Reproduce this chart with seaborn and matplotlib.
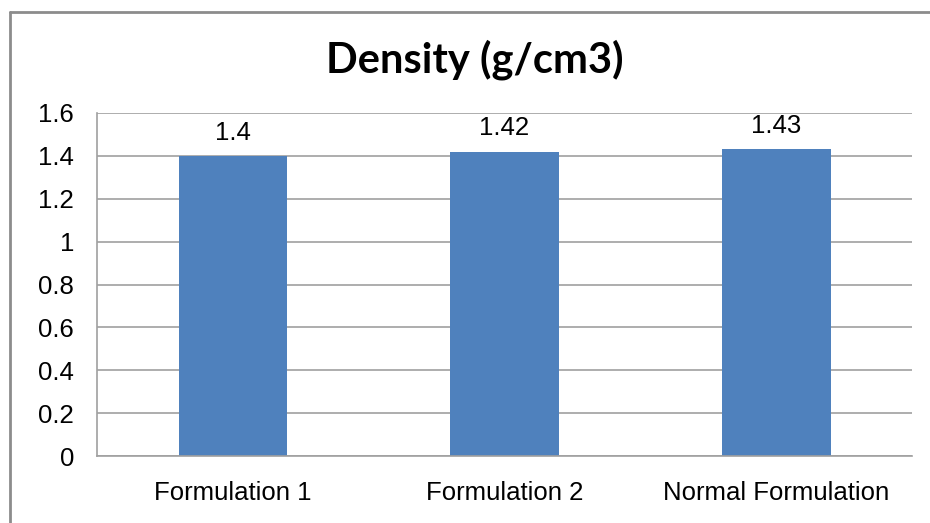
import matplotlib
matplotlib.use("Agg")
import matplotlib.pyplot as plt
import seaborn as sns
import pandas as pd
from matplotlib.lines import Line2D

categories = ["Formulation 1", "Formulation 2", "Normal Formulation"]
values = [1.40, 1.42, 1.43]
value_labels = ["1.4", "1.42", "1.43"]
y_ticks = [0, 0.2, 0.4, 0.6, 0.8, 1.0, 1.2, 1.4, 1.6]
y_tick_labels = ["0", "0.2", "0.4", "0.6", "0.8", "1", "1.2", "1.4", "1.6"]
title = "Density (g/cm3)"

sns.set_style("white")
plt.rcParams["font.family"] = ["Liberation Sans", "DejaVu Sans"]
plt.rcParams["text.color"] = "black"

df = pd.DataFrame({"cat": categories, "val": values})

fig = plt.figure(figsize=(9.3, 5.23), dpi=100)
ax = fig.add_axes([97/930, 1-456/523, (912-97)/930, (456-113)/523])

sns.barplot(data=df, x="cat", y="val", color="#4F81BD", saturation=1,
            width=0.4, ax=ax, edgecolor="none")

ax.set_ylim(0, 1.6)
ax.set_yticks(y_ticks)
ax.set_yticklabels(y_tick_labels)
ax.set_xlim(-0.5, 2.5)
ax.set_xlabel("")
ax.set_ylabel("")
ax.grid(axis="y", color="#A0A0A0", linewidth=1.2)
ax.set_axisbelow(True)
for s in ["top", "right"]:
    ax.spines[s].set_visible(False)
for s in ["left", "bottom"]:
    ax.spines[s].set_color("#A0A0A0")
    ax.spines[s].set_linewidth(1.2)
ax.tick_params(axis="both", length=0, labelsize=18.5, colors="black")
ax.tick_params(axis="y", pad=16.5)
ax.tick_params(axis="x", pad=18)

for cont in ax.containers:
    ax.bar_label(cont, labels=value_labels, padding=8, fontsize=18.5, color="black")

fig.text(475/930, 1-59.5/523, title, ha="center", va="center", fontsize=30,
         fontweight="bold", color="black", family=["Lato", "DejaVu Sans"])

fig.add_artist(Line2D([10/930, 1.0], [1-12/523, 1-12/523], transform=fig.transFigure,
                      color="#8C8C8C", linewidth=2))
fig.add_artist(Line2D([10/930, 10/930], [0.0, 1-12/523], transform=fig.transFigure,
                      color="#8C8C8C", linewidth=2))

fig.savefig("out.png", dpi=100)
